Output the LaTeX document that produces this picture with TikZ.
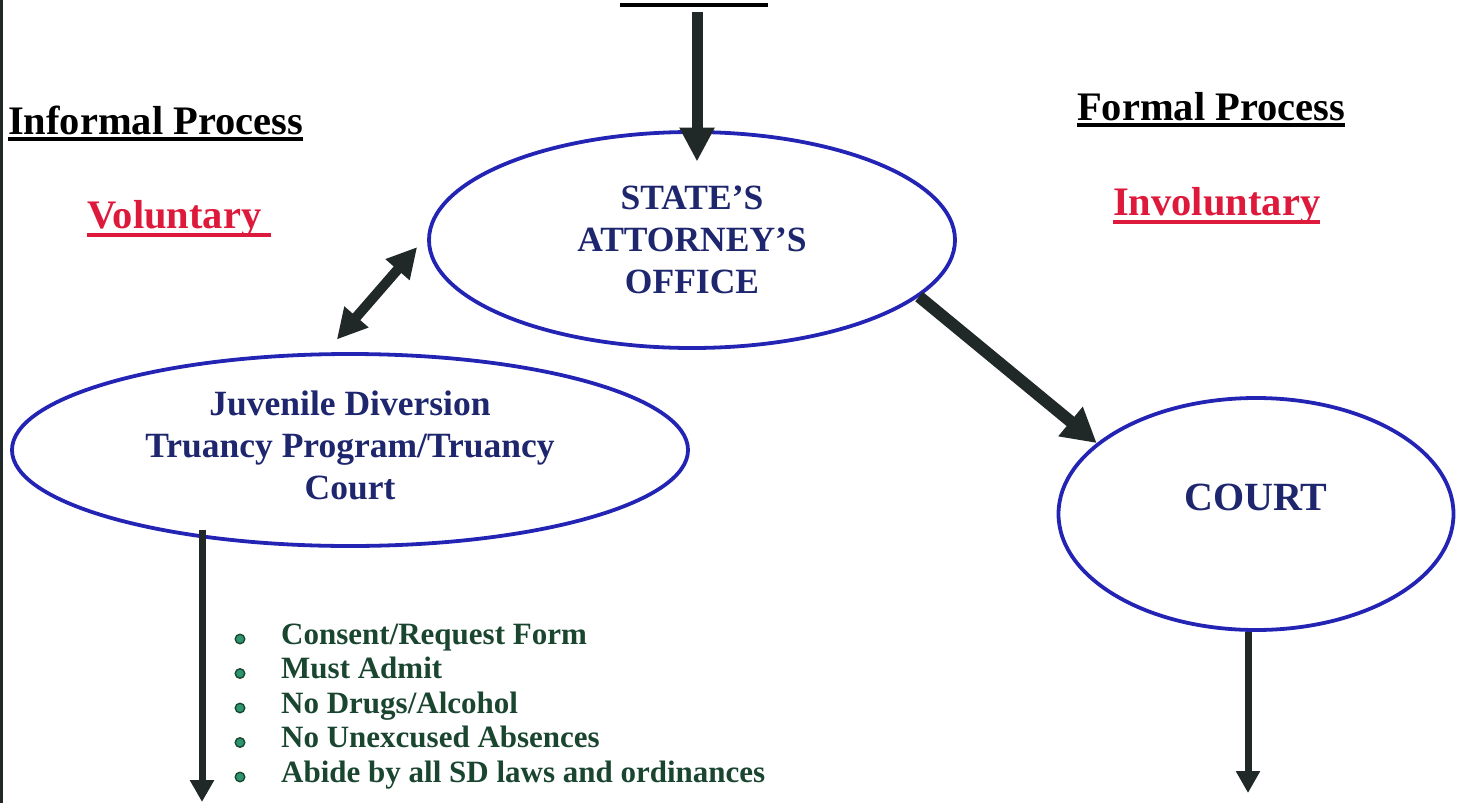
\documentclass[tikz,border=0pt]{standalone}
\usepackage{fontspec}
\setmainfont{Liberation Serif}
\usepackage{xcolor}
\usetikzlibrary{shapes.geometric,arrows.meta}

\definecolor{ringblue}{RGB}{36,36,180}
\definecolor{navytext}{RGB}{30,38,110}
\definecolor{volred}{RGB}{222,26,60}
\definecolor{listgreen}{RGB}{26,70,48}
\definecolor{dotgreen}{RGB}{45,150,110}
\definecolor{arrowdark}{RGB}{32,40,40}

\begin{document}
\begin{tikzpicture}[x=1pt,y=-1pt,
  oval/.style={ellipse,draw=ringblue,line width=3.8pt,inner sep=0pt,text=navytext,align=center,font=\bfseries\fontsize{35.5}{42}\selectfont},
  head/.style={anchor=base west,inner sep=0pt,font=\bfseries\fontsize{40.5}{48}\selectfont},
  rule/.style={anchor=base west,inner sep=0pt,text=listgreen,font=\bfseries\fontsize{31}{36}\selectfont},
  dot/.style={circle,draw=listgreen,fill=dotgreen,line width=1.4pt,minimum size=9.5pt,inner sep=0pt},
  bigarrow/.style={arrowdark,line width=11pt,-{Triangle[length=34pt,width=33pt]}},
  diagarrow/.style={arrowdark,line width=12pt,-{Triangle[length=34pt,width=36pt]}},
  dblarrow/.style={arrowdark,line width=10pt,{Triangle[length=30pt,width=30pt]}-{Triangle[length=30pt,width=30pt]}},
  thinarrow/.style={arrowdark,line width=7pt,-{Triangle[length=22pt,width=23pt]}}]

  \useasboundingbox (0,0) rectangle (1461,803);

  % scan edge and cut-off title rule
  \draw[arrowdark,line width=3pt] (1.5,0) -- (1.5,803);
  \draw[line width=4pt] (620,5) -- (768,5);

  % headings
  \node[head] (inf) at (8,134) {Informal Process};
  \node[head] (frm) at (1077,120) {Formal Process};
  \node[head,text=volred] (vol) at (87,228) {Voluntary};
  \node[head,text=volred] (invol) at (1113,215) {Involuntary};
  \draw[line width=3.5pt] ([yshift=-5pt]inf.base west) -- ([yshift=-5pt]inf.base east);
  \draw[line width=3.5pt] ([yshift=-5pt]frm.base west) -- ([yshift=-5pt]frm.base east);
  \draw[volred,line width=3.5pt] ([yshift=-7pt]vol.base west) -- ([xshift=10pt,yshift=-7pt]vol.base east);
  \draw[volred,line width=3.5pt] ([yshift=-7pt]invol.base west) -- ([yshift=-7pt]invol.base east);

  % ovals
  \node[oval,minimum width=526pt,minimum height=216pt] (sa) at (692,240) {STATE’S\\ATTORNEY’S\\OFFICE};
  \node[oval,minimum width=676pt,minimum height=192pt] (jd) at (350,450) {Juvenile Diversion\\Truancy Program/Truancy\\Court\rule[-10pt]{0pt}{0pt}};
  \node[oval,minimum width=395pt,minimum height=232pt,
        label={[text=navytext,font=\bfseries\fontsize{40}{48}\selectfont,yshift=17pt]center:COURT}] (court) at (1256,514) {};

  % conditions
  \node[rule] (r1) at (281,644) {Consent/Request Form};
  \node[rule] (r2) at ([yshift=-34.5pt]r1.base west) {Must Admit};
  \node[rule] (r3) at ([yshift=-34.5pt]r2.base west) {No Drugs/Alcohol};
  \node[rule] (r4) at ([yshift=-34.5pt]r3.base west) {No Unexcused Absences};
  \node[rule] (r5) at ([yshift=-34.5pt]r4.base west) {Abide by all SD laws and ordinances};
  \node[dot] (d1) at ([xshift=-41pt,yshift=5pt]r1.base west) {};
  \node[dot] (d2) at ([xshift=-41pt,yshift=5pt]r2.base west) {};
  \node[dot] (d3) at ([xshift=-41pt,yshift=5pt]r3.base west) {};
  \node[dot] (d4) at ([xshift=-41pt,yshift=5pt]r4.base west) {};
  \node[dot] (d5) at ([xshift=-41pt,yshift=5pt]r5.base west) {};

  % arrows
  \coordinate (ref) at (697,12);
  \coordinate (jdend) at (202,802);
  \coordinate (cend) at (1248,793);
  \draw[bigarrow,shorten >=-31.5pt] (ref) -- (ref |- sa.north);
  \draw[diagarrow] (sa.-14) -- (court.156);
  \draw[dblarrow,shorten <=17pt,shorten >=15.5pt] (jd.104) -- (sa.179);
  \draw[thinarrow,shorten <=-8pt] (jdend |- jd.210) -- (jdend);
  \draw[thinarrow] (cend |- court.south) -- (cend);
\end{tikzpicture}
\end{document}
